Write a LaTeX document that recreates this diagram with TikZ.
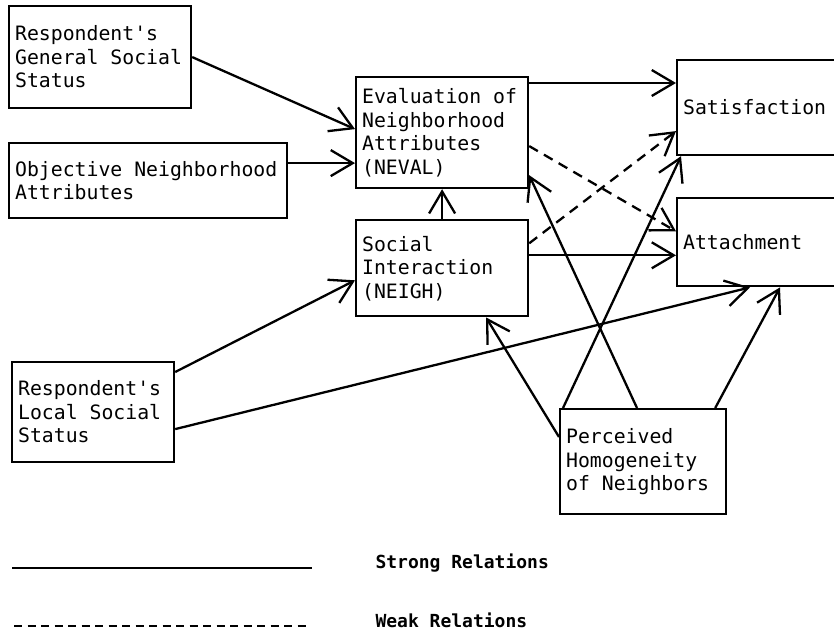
\documentclass[tikz,border=0pt]{standalone}
\usepackage{fontspec}
\usepackage{tikz}
\usetikzlibrary{calc,positioning,arrows.meta}
\newfontfamily\boxfont{DejaVu Sans Mono}

\begin{document}
\begin{tikzpicture}[x=1pt, y=-1pt,
	main/.style = {draw, rectangle, line width=2.2pt, anchor=north west, align=flush left, inner xsep=6pt, inner ysep=0pt, font=\boxfont\fontsize{19.8}{23.5}\selectfont},
	rel/.style = {line width=2.3pt, -{Straight Barb[length=22pt,width=26pt]}},
	weakrel/.style = {rel, dash pattern=on 10pt off 7pt},
	keytext/.style = {anchor=west, font=\boxfont\bfseries\fontsize{18}{20}\selectfont}]
		\useasboundingbox (0,0) rectangle (834,632);
		\node[main, text width=170pt, minimum height=102pt] (gen) at (8,5) {Respondent's\\General Social\\Status};
		\node[main, text width=266pt, minimum height=75pt] (obj) at (8,142) {Objective Neighborhood\\Attributes};
		\node[main, text width=150pt, minimum height=100pt] (loc) at (11,361) {Respondent's\\Local Social\\Status};
		\node[main, text width=160pt, minimum height=111pt] (neval) at (355,76) {Evaluation of\\Neighborhood\\Attributes\\(NEVAL)};
		\node[main, text width=160pt, minimum height=96pt] (neigh) [below=30pt of neval.south west, anchor=north west] {Social\\Interaction\\(NEIGH)};
		\node[main, text width=158pt, minimum height=95pt] (satis) at (676,59) {Satisfaction};
		\node[main, text width=158pt, minimum height=88pt] (attach) [below=41pt of satis.south west, anchor=north west] {Attachment};
		\node[main, text width=154pt, minimum height=105pt] (perc) at (559,408) {Perceived\\Homogeneity\\of Neighbors};
		\coordinate (objout) at ([yshift=17.5pt]obj.east);
		\coordinate (nevalout) at ([yshift=-7pt]neval.north east);
		\coordinate (neighout) at ([yshift=13pt]neigh.east);
		\draw[rel] (gen.east) -- ([yshift=3.5pt]neval.west);
		\draw[rel] (objout) -- (objout -| neval.west);
		\draw[rel] ([yshift=-11pt]loc.north east) -- ([yshift=-12pt]neigh.west);
		\draw[rel] ([yshift=-17pt]loc.east) -- ([xshift=74pt]attach.south west);
		\draw[rel] (neigh.north) -- (neigh.north |- neval.south);
		\draw[rel] (nevalout) -- (nevalout -| satis.west);
		\draw[weakrel] ([yshift=-13.5pt]neval.east) -- ([yshift=11pt]attach.west);
		\draw[weakrel] ([yshift=25pt]neigh.east) -- ([yshift=-23.5pt]satis.west);
		\draw[rel] (neighout) -- (neighout -| attach.west);
		\draw[rel] ([yshift=-29pt]perc.north west) -- ([xshift=131pt]neigh.south west);
		\draw[rel] ([xshift=78pt]perc.north west) -- ([yshift=14pt]neval.south east);
		\draw[rel] ([xshift=4pt]perc.north west) -- ([xshift=5pt]satis.south west);
		\draw[rel] ([xshift=-12pt]perc.north east) -- ([xshift=104pt]attach.south west);
		\node[keytext] (strong) at (372,563) {Strong Relations};
		\node[keytext] (weak) at (372,620) {Weak Relations};
		\draw[line width=2.4pt] (12,568) -- (312,568);
		\draw[line width=2.4pt, dash pattern=on 8pt off 5.5pt] (14,626) -- (310,626);
\end{tikzpicture}
\end{document}
